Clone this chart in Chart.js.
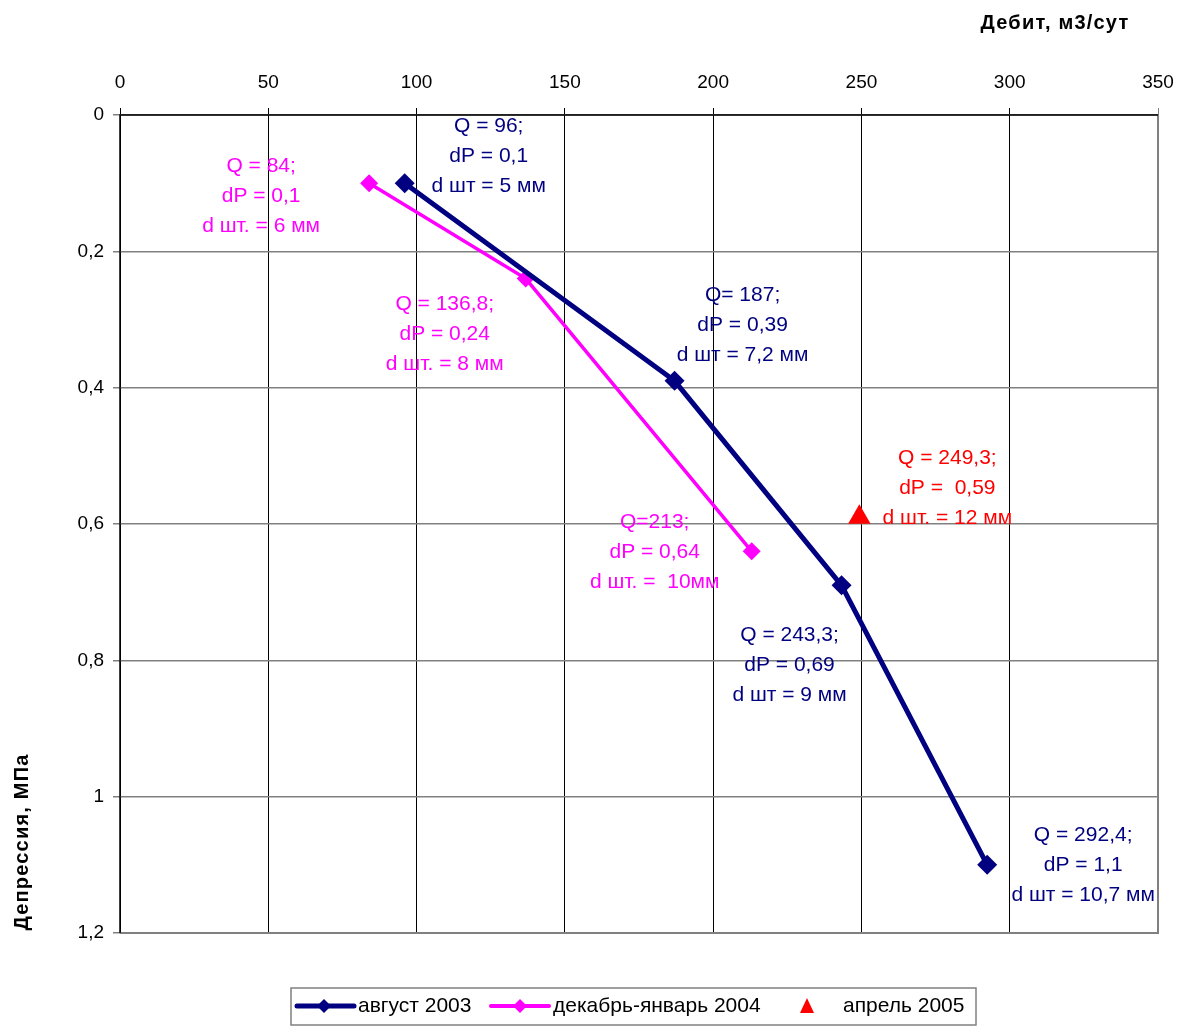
<!DOCTYPE html>
<html>
<head>
<meta charset="utf-8">
<script src="https://cdn.jsdelivr.net/npm/chart.js@4/dist/chart.umd.min.js"></script>
<style>
  html, body { margin: 0; padding: 0; background: #ffffff; }
  #wrap { width: 1179px; height: 1026px; position: relative; }
</style>
</head>
<body>
<div id="wrap"><canvas id="c" width="1179" height="1026"></canvas></div>
<script>
// Flow rate (m3/day) vs drawdown (MPa) per survey
const flowAug2003 = [96, 187, 243.3, 292.4];
const dpAug2003   = [0.1, 0.39, 0.69, 1.1];
const flowDec2004 = [84, 136.8, 213];
const dpDec2004   = [0.1, 0.24, 0.64];
const flowApr2005 = [249.3];
const dpApr2005   = [0.59];

const seriesNames = ['август 2003', 'декабрь-январь 2004', 'апрель 2005'];

const xTicks = [0, 50, 100, 150, 200, 250, 300, 350];
const yTicks = [0, 0.2, 0.4, 0.6, 0.8, 1, 1.2];

// Point annotations (Q, dP, choke diameter)
const notesAug2003 = [
  ['Q = 96;', 'dP = 0,1', 'd шт = 5 мм'],
  ['Q= 187;', 'dP = 0,39', 'd шт = 7,2 мм'],
  ['Q = 243,3;', 'dP = 0,69', 'd шт = 9 мм'],
  ['Q = 292,4;', 'dP = 1,1', 'd шт = 10,7 мм']
];
const notesDec2004 = [
  ['Q = 84;', 'dP = 0,1', 'd шт. = 6 мм'],
  ['Q = 136,8;', 'dP = 0,24', 'd шт. = 8 мм'],
  ['Q=213;', 'dP = 0,64', 'd шт. =  10мм']
];
const notesApr2005 = [
  ['Q = 249,3;', 'dP =  0,59', 'd шт. = 12 мм']
];

const NAVY = '#000080', PINK = '#ff00ff', RED = '#ff0000';
const FONT = 'Arial, "Liberation Sans", sans-serif';

const toXY = (xs, ys) => xs.map((x, i) => ({ x: x, y: ys[i] }));
const fmt = v => String(Number(v.toFixed(1))).replace('.', ',');

// label placement relative to each point (centre of first text line)
const noteOffsets = [
  [[84, -57], [68, -86], [-52, 50], [96, -30]],
  [[-108, -17], [-81, 26], [-97, -29]],
  [[88, -59]]
];
const noteSets = [notesAug2003, notesDec2004, notesApr2005];
const noteColors = [NAVY, PINK, RED];

const notesPlugin = {
  id: 'notes',
  afterDatasetsDraw(chart) {
    const ctx = chart.ctx;
    ctx.save();
    ctx.font = '21px ' + FONT;
    ctx.textAlign = 'center';
    ctx.textBaseline = 'middle';
    noteSets.forEach((set, di) => {
      const meta = chart.getDatasetMeta(di);
      ctx.fillStyle = noteColors[di];
      set.forEach((lines, pi) => {
        const el = meta.data[pi];
        const [dx, dy] = noteOffsets[di][pi];
        lines.forEach((t, li) => ctx.fillText(t, el.x + dx, el.y + dy + li * 30));
      });
    });
    ctx.restore();
  }
};

const framePlugin = {
  id: 'frame',
  beforeDatasetsDraw(chart) {
    const { ctx, chartArea: a } = chart;
    ctx.save();
    ctx.strokeStyle = '#808080';
    ctx.lineWidth = 2;
    ctx.beginPath();
    ctx.moveTo(a.right, a.top);
    ctx.lineTo(a.right, a.bottom);
    ctx.lineTo(a.left, a.bottom);
    ctx.stroke();
    ctx.strokeStyle = '#000';
    ctx.lineWidth = 1.5;
    ctx.beginPath();
    ctx.moveTo(a.left, a.bottom);
    ctx.lineTo(a.left, a.top);
    ctx.lineTo(a.right, a.top);
    ctx.stroke();
    ctx.restore();
  },
  afterDraw(chart) {
    const ctx = chart.ctx;
    ctx.save();
    // axis titles
    ctx.fillStyle = '#000';
    ctx.font = 'bold 20px ' + FONT;
    ctx.letterSpacing = '1.2px';
    ctx.textAlign = 'center';
    ctx.textBaseline = 'middle';
    ctx.fillText('Дебит, м3/сут', 1055, 23);
    ctx.translate(22, 842);
    ctx.rotate(-Math.PI / 2);
    ctx.fillText('Депрессия, МПа', 0, 0);
    ctx.restore();

    // legend
    ctx.save();
    ctx.strokeStyle = '#808080';
    ctx.lineWidth = 1.5;
    ctx.strokeRect(291, 988, 685, 37);
    const ly = 1006;
    const diamond = (cx, cy, r, col) => {
      ctx.fillStyle = col;
      ctx.beginPath();
      ctx.moveTo(cx, cy - r); ctx.lineTo(cx + r, cy); ctx.lineTo(cx, cy + r); ctx.lineTo(cx - r, cy);
      ctx.closePath(); ctx.fill();
    };
    ctx.lineCap = 'round';
    ctx.strokeStyle = NAVY; ctx.lineWidth = 5;
    ctx.beginPath(); ctx.moveTo(297, ly); ctx.lineTo(354, ly); ctx.stroke();
    diamond(324, ly, 7, NAVY);
    ctx.strokeStyle = PINK; ctx.lineWidth = 4;
    ctx.beginPath(); ctx.moveTo(491, ly); ctx.lineTo(549, ly); ctx.stroke();
    diamond(520, ly, 7, PINK);
    ctx.fillStyle = RED;
    ctx.beginPath();
    ctx.moveTo(807, ly - 8); ctx.lineTo(814, ly + 7); ctx.lineTo(800, ly + 7);
    ctx.closePath(); ctx.fill();
    ctx.fillStyle = '#000';
    ctx.font = '21px ' + FONT;
    ctx.textAlign = 'left';
    ctx.textBaseline = 'middle';
    ctx.fillText(seriesNames[0], 358, ly);
    ctx.fillText(seriesNames[1], 553, ly);
    ctx.fillText(seriesNames[2], 843, ly);
    ctx.restore();
  }
};

new Chart(document.getElementById('c'), {
  type: 'scatter',
  data: {
    datasets: [
      {
        label: seriesNames[0],
        data: toXY(flowAug2003, dpAug2003),
        showLine: true,
        borderColor: NAVY,
        borderWidth: 5,
        pointStyle: 'rectRot',
        pointRadius: 10,
        pointBorderWidth: 0,
        pointBackgroundColor: NAVY,
        order: 1
      },
      {
        label: seriesNames[1],
        data: toXY(flowDec2004, dpDec2004),
        showLine: true,
        borderColor: PINK,
        borderWidth: 3.5,
        pointStyle: 'rectRot',
        pointRadius: 9,
        pointBorderWidth: 0,
        pointBackgroundColor: PINK,
        order: 2
      },
      {
        label: seriesNames[2],
        data: toXY(flowApr2005, dpApr2005),
        showLine: false,
        pointStyle: 'triangle',
        pointRadius: 13,
        pointBorderWidth: 0,
        pointBackgroundColor: RED,
        order: 0
      }
    ]
  },
  options: {
    responsive: false,
    animation: false,
    devicePixelRatio: 1,
    layout: { padding: { left: 0, top: 0, right: 21, bottom: 93 } },
    plugins: { legend: { display: false }, tooltip: { enabled: false } },
    scales: {
      x: {
        type: 'linear',
        position: 'top',
        min: 0, max: 350,
        afterBuildTicks: s => { s.ticks = xTicks.map(v => ({ value: v })); },
        afterFit: s => { s.height = 115; s.paddingLeft = 0; s.paddingRight = 0; },
        ticks: { color: '#000', font: { family: FONT, size: 19 }, padding: 14, callback: v => fmt(v) },
        grid: {
          color: c => (c.tick && c.tick.value === 350 ? '#808080' : '#000'),
          lineWidth: 1,
          tickLength: 7
        },
        border: { display: false }
      },
      y: {
        type: 'linear',
        reverse: true,
        min: 0, max: 1.2,
        afterBuildTicks: s => { s.ticks = yTicks.map(v => ({ value: v })); },
        afterFit: s => { s.width = 120; s.paddingTop = 0; s.paddingBottom = 0; },
        ticks: { color: '#000', font: { family: FONT, size: 19 }, padding: 9, callback: v => fmt(v) },
        grid: { color: '#808080', lineWidth: 1.5, tickLength: 7 },
        border: { display: false }
      }
    }
  },
  plugins: [framePlugin, notesPlugin]
});
</script>
</body>
</html>
